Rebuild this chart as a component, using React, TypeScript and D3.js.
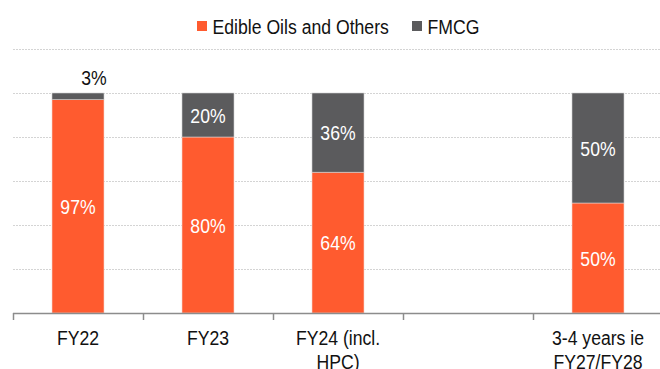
import * as d3 from 'd3'

const WIDTH = 660
const HEIGHT = 369

const categories = ['FY22', 'FY23', 'FY24 (incl.\nHPC)', '', '3-4 years ie\nFY27/FY28']
const edibleOils = [97, 80, 64, null, 50]
const fmcg = [3, 20, 36, null, 50]
const seriesNames = ['Edible Oils and Others', 'FMCG']
const gridTicks = [0, 20, 40, 60, 80, 100, 120]

const ORANGE = '#ff5b2f'
const GREY = '#5b5b5d'
const FONT = '"Liberation Sans", Arial, sans-serif'
const FS = 21
const SQUEEZE = 0.84

// narrow text: Arial squeezed horizontally, like Arial Narrow
function Label({ x, y, text, fill = '#111', anchor = 'middle' }: {
  x: number
  y: number
  text: string
  fill?: string
  anchor?: 'start' | 'middle' | 'end'
}) {
  return (
    <text
      transform={`translate(${x},${y}) scale(${SQUEEZE},1)`}
      textAnchor={anchor}
      fill={fill}
      fontSize={FS}
    >
      {text}
    </text>
  )
}

export default function App() {
  const x = d3
    .scaleBand<string>()
    .domain(categories.map((c, i) => `${i}`))
    .range([13, 663])
    .paddingInner(0.6)
    .paddingOuter(0.3)
  const y = d3.scaleLinear().domain([0, 120]).range([313, 49])
  const step = x.step()
  const left = 13
  const capHalf = 7.5

  const stacked = categories.map((c, i) => ({ key: `${i}`, label: c, a: edibleOils[i], b: fmcg[i] }))

  return (
    <svg
      width={WIDTH}
      height={HEIGHT}
      style={{ position: 'absolute', left: 0, top: 0, background: '#fff' }}
      fontFamily={FONT}
    >
      {/* gridlines */}
      {gridTicks.slice(1).map((t) => (
        <line
          key={t}
          x1={left}
          x2={WIDTH}
          y1={y(t) + 0.5}
          y2={y(t) + 0.5}
          stroke="#d4d4d4"
          strokeDasharray="2,1"
        />
      ))}

      {/* legend */}
      <rect x={197} y={21} width={10} height={10} fill={ORANGE} />
      <Label x={212.5} y={34} text={seriesNames[0]} anchor="start" />
      <rect x={412} y={21} width={10} height={10} fill={GREY} />
      <Label x={427.5} y={34} text={seriesNames[1]} anchor="start" />

      {/* bars */}
      {stacked.map((d) => {
        if (d.a == null || d.b == null) return null
        const bx = x(d.key)!
        const bw = x.bandwidth()
        const cx = bx + bw / 2
        return (
          <g key={d.key}>
            <rect
              x={bx}
              y={y(d.a)}
              width={bw}
              height={y(0) - y(d.a)}
              fill={ORANGE}
              stroke="#f3d6cc"
              strokeWidth={0.6}
            />
            <rect
              x={bx}
              y={y(d.a + d.b)}
              width={bw}
              height={y(d.a) - y(d.a + d.b)}
              fill={GREY}
              stroke="#d0d0d0"
              strokeWidth={0.6}
            />
            <Label x={cx} y={(y(0) + y(d.a)) / 2 + capHalf} text={`${d.a}%`} fill="#fff" />
            {d.b >= 10 ? (
              <Label x={cx} y={(y(d.a) + y(d.a + d.b)) / 2 + capHalf} text={`${d.b}%`} fill="#fff" />
            ) : (
              <Label x={cx + 16} y={y(100) - 8.5} text={`${d.b}%`} />
            )}
          </g>
        )
      })}

      {/* x axis */}
      <line x1={left} x2={WIDTH} y1={313.5} y2={313.5} stroke="#8c8c8c" strokeWidth={1.5} />
      {d3.range(categories.length + 1).map((i) => (
        <line
          key={i}
          x1={left + i * step + 0.5}
          x2={left + i * step + 0.5}
          y1={313}
          y2={320}
          stroke="#8c8c8c"
          strokeWidth={1.5}
        />
      ))}
      {stacked.map((d) => {
        const cx = x(d.key)! + x.bandwidth() / 2
        return d.label
          .split('\n')
          .map((line, j) => <Label key={`${d.key}-${j}`} x={cx} y={345 + j * 24} text={line} />)
      })}
    </svg>
  )
}
